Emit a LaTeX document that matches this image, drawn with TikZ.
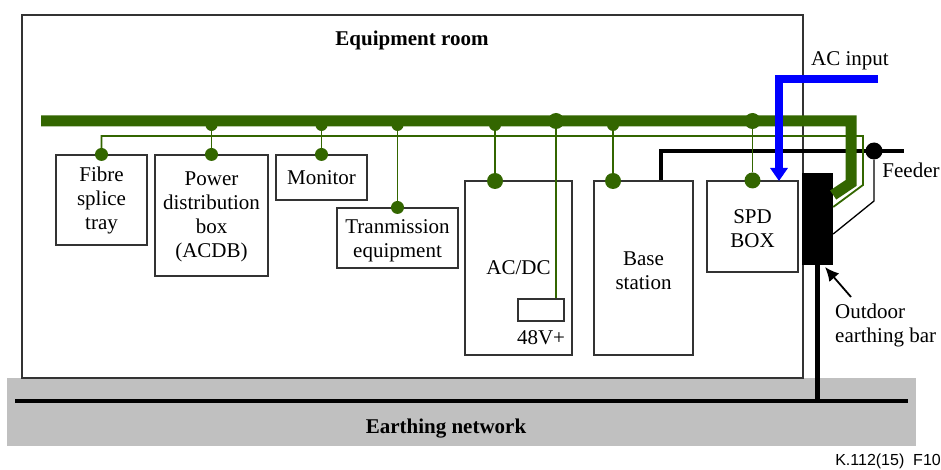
\documentclass[tikz,border=0pt]{standalone}
\usepackage{fontspec}
\setmainfont{Liberation Serif}
\newfontfamily\figfont{Liberation Sans}
\usepackage{tikz}
\usetikzlibrary{arrows.meta}
\definecolor{busgreen}{HTML}{336600}
\definecolor{boxline}{HTML}{333333}
\definecolor{earthgray}{HTML}{C0C0C0}
\tikzstyle{equipbox} = [rectangle, inner sep=0pt, align=center, draw=boxline, line width=1.1pt, font=\fontsize{21}{24}\selectfont]
\tikzstyle{label} = [inner sep=0pt, align=center, font=\fontsize{21}{24}\selectfont]
\tikzstyle{smalldot} = [circle, inner sep=0pt, minimum size=12pt, fill=busgreen]
\tikzstyle{midot} = [circle, inner sep=0pt, minimum size=13pt, fill=busgreen]
\tikzstyle{bigdot} = [circle, inner sep=0pt, minimum size=16pt, fill=busgreen]
\tikzstyle{thinwire} = [draw=busgreen, line width=1.8pt]
\tikzstyle{thickwire} = [draw=busgreen, line width=11pt, line join=miter]
\tikzstyle{feederwire} = [draw=black, line width=3.5pt]
\tikzstyle{arrow} = [-{Latex[length=14pt,width=13pt]}, line width=1.8pt]

\begin{document}
\begin{tikzpicture}[x=1pt,y=-1pt,node distance=0pt]
\useasboundingbox (0,0) rectangle (941,470);
%earthing network and room
\node[rectangle, inner sep=0pt, fill=earthgray, minimum width=909pt, minimum height=68pt](earth) at (461.5,412){};
\node[rectangle, inner sep=0pt, draw=boxline, line width=1.1pt, minimum width=781pt, minimum height=363pt](room) at (412.5,196.5){};
\node[label, font=\fontsize{21}{24}\selectfont\bfseries](roomtext) at (412,40){Equipment room};
\node[label, font=\fontsize{21}{24}\selectfont\bfseries](earthtext) at (446,429){Earthing network};
%equipment boxes
\node[equipbox, text height=64pt, minimum width=91pt, minimum height=90pt](fibre) at (101.5,200){Fibre\\splice\\tray};
\node[equipbox, text height=88pt, minimum width=113pt, minimum height=121pt, right of = fibre, xshift = 110pt, yshift = -15.5pt](power){Power\\distribution\\box\\(ACDB)};
\node[equipbox, minimum width=91pt, minimum height=45pt, right of = power, xshift = 110pt, yshift = 38pt](monitor){Monitor};
\node[equipbox, text height=44pt, minimum width=121pt, minimum height=60pt, right of = monitor, xshift = 76pt, yshift = -60.5pt](trans){Tranmission\\equipment};
\node[equipbox, minimum width=107pt, minimum height=174pt, right of = trans, xshift = 121pt, yshift = -30pt](acdc){AC/DC};
\node[equipbox, minimum width=46pt, minimum height=22pt](rect48) at (541,310){};
\node[label, below of = rect48, yshift = -28pt](volt){48V+};
\node[equipbox, text height=44pt, minimum width=99pt, minimum height=174pt, right of = acdc, xshift = 125pt](base){Base\\station};
\node[equipbox, text height=42pt, minimum width=91pt, minimum height=91pt, right of = base, xshift = 109pt, yshift = 41.5pt](spd){SPD\\BOX};
\node[rectangle, inner sep=0pt, fill=black, minimum width=31pt, minimum height=92pt](bar) at (817.5,219){};
%points on the wires
\coordinate (busleft) at (41,121);
\coordinate (busright) at (851,121);
\coordinate (busdown) at (851,183);
\coordinate (busbar) at (bar.east |- 0,195);
\coordinate (thinturn) at (863,136);
\coordinate (thindown) at (863,185);
\coordinate (thinbar) at (bar.east |- 0,207);
\coordinate (feedtop) at (661,151);
\coordinate (feedend) at (904,151);
\coordinate (earthleft) at (15,401);
\coordinate (earthright) at (908,401);
\coordinate (earthjoin) at (bar.south |- earthleft);
\coordinate (feedlow) at (874,201);
\coordinate (feedbar) at (bar.east |- 0,234);
\coordinate (acstart) at (878,79);
\coordinate (acturn) at (779,79);
\coordinate (acend) at (779,181);
\coordinate (bararrow) at (851,297);
\coordinate (bartip) at (825,267);
%wires under the dots
\draw [feederwire] (base.north -| feedtop) -- (feedtop) -- (feedend);
\draw [thinwire] (fibre.north) |- (thinturn) -- (thindown) -- (thinbar);
\draw [thickwire] (busleft) -- (busright) -- (busdown) -- (busbar);
%dots
\node[midot](dotfibre) at (fibre.north){};
\node[midot](dotpower) at (power.north){};
\node[midot](dotmonitor) at (monitor.north){};
\node[midot](dottrans) at (trans.north){};
\node[bigdot](dotacdc) at (495,181){};
\node[bigdot](dotbase) at (613,181){};
\node[bigdot](dotspd) at (spd.north){};
\node[smalldot](buspower) at (dotpower |- 0,125){};
\node[smalldot](busmonitor) at (dotmonitor |- 0,125){};
\node[smalldot](bustrans) at (dottrans |- 0,125){};
\node[smalldot](busacdc) at (dotacdc |- 0,125){};
\node[smalldot](busbase) at (dotbase |- 0,125){};
\node[bigdot](busspd) at (dotspd |- busleft){};
\node[bigdot](bus48) at (556,121){};
\node[circle, inner sep=0pt, minimum size=17pt, fill=black](dotfeed) at (874,151){};
%wires
\draw [thinwire] (buspower) -- (dotpower);
\draw [thinwire] (busmonitor) -- (dotmonitor);
\draw [thinwire] (bustrans) -- (dottrans);
\draw [thinwire] (busacdc) -- (dotacdc);
\draw [thinwire] (busbase) -- (dotbase);
\draw [thinwire] (busspd) -- (dotspd);
\draw [thinwire] (bus48) -- (rect48.north -| bus48);
\draw [draw=black, line width=1.3pt] (dotfeed) -- (feedlow) -- (feedbar);
\draw [draw=black, line width=4.5pt] (earthleft) -- (earthright);
\draw [draw=black, line width=5pt] (bar) -- (earthjoin);
\draw [draw=blue, line width=8pt, line join=miter, -{Triangle[length=13pt,width=17pt]}] (acstart) -- (acturn) -- (acend);
\draw [arrow] (bararrow) -- (bartip);
%labels outside the room
\node[label](acinput) at (850,61){AC input};
\node[label](feeder) at (911,170){Feeder};
\node[label, align=left, anchor=west](earthbar) at (835,325){Outdoor\\earthing bar};
\node[inner sep=0pt, anchor=east, font=\figfont\fontsize{16}{18}\selectfont](figno) at (941,461){K.112(15)\ \ F10};
\end{tikzpicture}
\end{document}
